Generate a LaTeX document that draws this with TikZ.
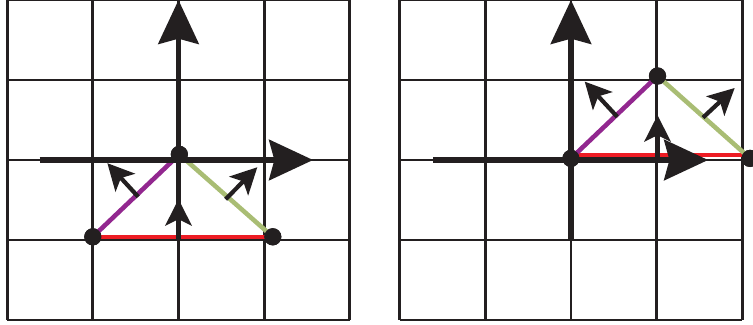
\documentclass[tikz,border=0pt]{standalone}
\usetikzlibrary{arrows.meta}

\definecolor{inkblack}{HTML}{231F20}
\definecolor{edgered}{HTML}{ED1C24}
\definecolor{edgepurple}{HTML}{92278F}
\definecolor{edgegreen}{HTML}{A9BD74}

\tikzstyle{gridline} = [draw=inkblack,line width=.8pt]
\tikzstyle{axis} = [draw=inkblack,line width=1.5pt,-{Stealth[length=12.5pt,width=11.5pt,inset=1.5pt]}]
\tikzstyle{normal} = [draw=inkblack,line width=1.2pt,-{Stealth[length=7.5pt,width=7.5pt,inset=1.8pt]}]
\tikzstyle{side} = [line width=1.3pt]
\tikzstyle{vertex} = [circle,fill=inkblack,inner sep=0pt,minimum size=4.9pt]

\begin{document}
\begin{tikzpicture}[x=.857cm,y=.8cm]
\useasboundingbox (-2.083,-2.0625) rectangle (6.704,2);

% left panel
\begin{scope}
% grid
\foreach \k in {-2,...,2} {
    \draw[gridline] (\k,-2) -- (\k,2);
    \draw[gridline] (-2,\k) -- (2,\k);
}

% vertices
\node[vertex] (l1) at (-1,-.96) {};
\node[vertex] (l2) at (1.1,-.96) {};
\node[vertex] (l3) at (.01,.07) {};

\coordinate (xl0) at (-1.62,0);
\coordinate (xl1) at (1.57,0);
\coordinate (yl0) at (0,-1);
\coordinate (yl1) at (0,2);

\coordinate (lp0) at (-.47,-.46);
\coordinate (lp1) at (-.83,-.04);
\coordinate (lg0) at (.55,-.49);
\coordinate (lg1) at (.92,-.09);
\coordinate (lr0) at (0,-.96);
\coordinate (lr1) at (0,-.49);

% edges
\draw[side,edgered] (l1.center) -- (l2.center);
\draw[side,edgepurple] (l1.center) -- (l3.center);
\draw[side,edgegreen] (l2.center) -- (l3.center);

% axes
\draw[axis] (xl0) -- (xl1);
\draw[axis] (yl0) -- (yl1);

% normals
\draw[normal] (lp0) -- (lp1);
\draw[normal] (lg0) -- (lg1);
\draw[normal] (lr0) -- (lr1);

\node[vertex] at (l1) {};
\node[vertex] at (l2) {};
\node[vertex] at (l3) {};
\end{scope}

% right panel
\begin{scope}[xshift=3.925cm]
% grid
\foreach \k in {-2,...,2} {
    \draw[gridline] (\k,-2) -- (\k,2);
    \draw[gridline] (-2,\k) -- (2,\k);
}

% vertices
\node[vertex] (r1) at (0,.02) {};
\node[vertex] (r2) at (1.01,1.05) {};
\node[vertex] (r3) at (2.09,.02) {};

\coordinate (xr0) at (-1.61,0);
\coordinate (xr1) at (1.6,0);
\coordinate (yr0) at (0,-1);
\coordinate (yr1) at (0,2);

\coordinate (rp0) at (.54,.54);
\coordinate (rp1) at (.16,.98);
\coordinate (rg0) at (1.54,.53);
\coordinate (rg1) at (1.91,.9);
\coordinate (rr0) at (1.01,.04);
\coordinate (rr1) at (1.01,.56);

% edges
\draw[side,edgered] ([yshift=1pt]r1.center) -- ([yshift=1pt]r3.center);
\draw[side,edgepurple] (r1.center) -- (r2.center);
\draw[side,edgegreen] (r2.center) -- (r3.center);

% axes
\draw[axis] (xr0) -- (xr1);
\draw[axis] (yr0) -- (yr1);

% normals
\draw[normal] (rp0) -- (rp1);
\draw[normal] (rg0) -- (rg1);
\draw[normal] (rr0) -- (rr1);

\node[vertex] at (r1) {};
\node[vertex] at (r2) {};
\node[vertex] at (r3) {};
\end{scope}

\end{tikzpicture}
\end{document}
